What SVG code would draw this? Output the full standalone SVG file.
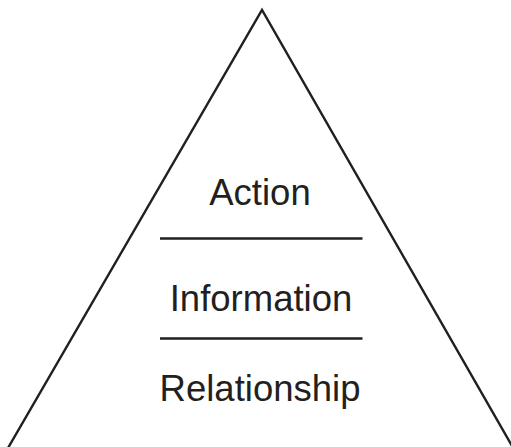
<svg xmlns="http://www.w3.org/2000/svg" width="511" height="447" viewBox="0 0 511 447">
<style>
.ln{stroke:#231f20;stroke-width:2.4;fill:none}
.lbl{font-family:"Liberation Sans",Arial,sans-serif;font-size:36.5px;fill:#231f20;text-anchor:middle}
</style>
<rect width="511" height="447" fill="#fff"/>
<g id="pyramid">
<polyline class="ln" points="8,448 262,10 512,446"/>
</g>
<g id="connectors">
<line class="ln" x1="160" y1="238.5" x2="362.5" y2="238.5"/>
<line class="ln" x1="160" y1="338.5" x2="362.5" y2="338.5"/>
</g>
<g id="action"><text class="lbl" x="260" y="204.5">Action</text></g>
<g id="information"><text class="lbl" x="261" y="310.7">Information</text></g>
<g id="relationship"><text class="lbl" x="260" y="401">Relationship</text></g>
</svg>
